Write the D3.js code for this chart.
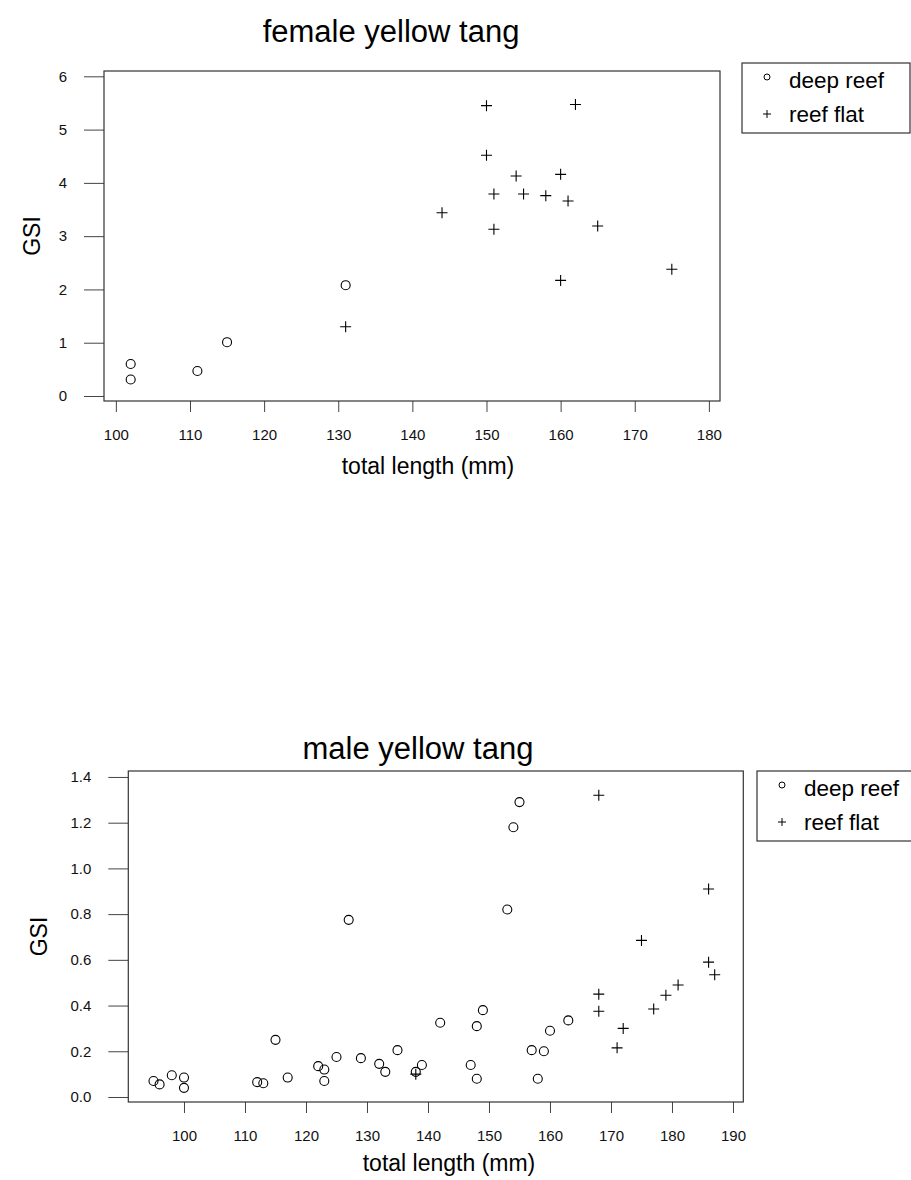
<!DOCTYPE html>
<html>
<head>
<meta charset="utf-8">
<script src="https://cdn.jsdelivr.net/npm/d3@7"></script>
<style>
  html, body { margin: 0; padding: 0; background: #fff; }
  svg { display: block; font-family: "Liberation Sans", Arial, Helvetica, sans-serif; }
</style>
</head>
<body>
<svg id="chart" width="911" height="1180"></svg>
<script>
// Gonadosomatic index (GSI) against total length, yellow tang
const femaleDeepLen = [102, 102, 111, 115, 131];
const femaleDeepGSI = [0.60, 0.31, 0.47, 1.01, 2.08];

const femaleFlatLen = [131, 144, 150, 150, 151, 151, 154, 155, 158, 160, 160, 161, 162, 165, 175];
const femaleFlatGSI = [1.30, 3.44, 5.45, 4.52, 3.79, 3.13, 4.13, 3.79, 3.76, 4.16, 2.17, 3.66, 5.47, 3.19, 2.38];

const maleDeepLen = [95, 96, 98, 100, 100, 112, 113, 115, 117, 122, 123, 123, 125, 127, 129, 132, 133,
                     135, 138, 139, 142, 147, 148, 148, 149, 153, 154, 155, 157, 158, 159, 160, 163];
const maleDeepGSI = [0.07, 0.055, 0.095, 0.085, 0.04, 0.065, 0.06, 0.25, 0.085, 0.135, 0.12, 0.07, 0.175, 0.775, 0.17, 0.145, 0.11,
                     0.205, 0.11, 0.14, 0.325, 0.14, 0.31, 0.08, 0.38, 0.82, 1.18, 1.29, 0.205, 0.08, 0.20, 0.29, 0.335];

const maleFlatLen = [138, 168, 168, 168, 171, 172, 175, 177, 179, 181, 186, 186, 187];
const maleFlatGSI = [0.10, 1.32, 0.45, 0.375, 0.215, 0.30, 0.685, 0.385, 0.445, 0.49, 0.91, 0.59, 0.535];

const femaleXTicks = [100, 110, 120, 130, 140, 150, 160, 170, 180];
const femaleYTicks = [0, 1, 2, 3, 4, 5, 6];
const maleXTicks = [100, 110, 120, 130, 140, 150, 160, 170, 180, 190];
const maleYTicks = [0, 0.2, 0.4, 0.6, 0.8, 1.0, 1.2, 1.4];

const legendLabels = ["deep reef", "reef flat"];

const svg = d3.select("#chart");

function panel(cfg) {
  const g = svg.append("g");
  const x = d3.scaleLinear().domain(cfg.xDomain).range([cfg.left, cfg.right]);
  const y = d3.scaleLinear().domain(cfg.yDomain).range([cfg.bottom, cfg.top]);

  // y axis ticks hanging off the frame
  g.append("g")
    .attr("transform", `translate(${cfg.left},0)`)
    .call(d3.axisLeft(y).tickValues(cfg.yTicks).tickFormat(cfg.yFormat).tickSize(20).tickPadding(17))
    .call(a => a.select(".domain").remove())
    .call(a => a.selectAll("line").attr("stroke", "#444"))
    .call(a => a.selectAll("text").attr("font-size", 15).attr("fill", "#111"));

  // x axis
  g.append("g")
    .attr("transform", `translate(0,${cfg.bottom})`)
    .call(d3.axisBottom(x).tickValues(cfg.xTicks).tickFormat(d3.format("d")).tickSize(11).tickPadding(17))
    .call(a => a.select(".domain").remove())
    .call(a => a.selectAll("line").attr("stroke", "#444"))
    .call(a => a.selectAll("text").attr("font-size", 15).attr("fill", "#111"));

  // frame
  g.append("rect")
    .attr("x", cfg.left).attr("y", cfg.top)
    .attr("width", cfg.right - cfg.left).attr("height", cfg.bottom - cfg.top)
    .attr("fill", "none").attr("stroke", "#333").attr("stroke-width", 1.2);

  // deep reef: open circles
  g.append("g").selectAll("circle")
    .data(d3.zip(cfg.deepLen, cfg.deepGSI))
    .join("circle")
    .attr("cx", d => x(d[0])).attr("cy", d => y(d[1])).attr("r", 4.5)
    .attr("fill", "none").attr("stroke", "#000").attr("stroke-width", 1.1);

  // reef flat: plus signs
  const plus = d3.symbol().type(d3.symbolCross);
  g.append("g").selectAll("path")
    .data(d3.zip(cfg.flatLen, cfg.flatGSI))
    .join("path")
    .attr("d", d => `M${x(d[0]) - 5.5},${y(d[1])}h11M${x(d[0])},${y(d[1]) - 5.5}v11`)
    .attr("stroke", "#000").attr("stroke-width", 1.1).attr("fill", "none");

  // titles
  g.append("text").attr("x", cfg.titleX).attr("y", cfg.titleY)
    .attr("text-anchor", "middle").attr("font-size", 31).attr("fill", "#000").text(cfg.title);
  g.append("text").attr("x", cfg.xlabX).attr("y", cfg.xlabY)
    .attr("text-anchor", "middle").attr("font-size", 23).attr("fill", "#000").text("total length (mm)");
  g.append("text")
    .attr("transform", `translate(${cfg.ylabX},${(cfg.top + cfg.bottom) / 2}) rotate(-90)`)
    .attr("text-anchor", "middle").attr("font-size", 23).attr("fill", "#000").text("GSI");

  // legend
  const lg = g.append("g").attr("transform", `translate(${cfg.legX},${cfg.legY})`);
  lg.append("rect").attr("x", 0).attr("y", 0).attr("width", cfg.legW).attr("height", cfg.legH)
    .attr("fill", "#fff").attr("stroke", "#333").attr("stroke-width", 1.2);
  const rows = [cfg.legRow0, cfg.legRow1];
  lg.append("circle").attr("cx", 25).attr("cy", rows[0] - 3).attr("r", 3)
    .attr("fill", "none").attr("stroke", "#000").attr("stroke-width", 1);
  lg.append("path").attr("d", `M21,${rows[1]}h8M25,${rows[1] - 4}v8`)
    .attr("stroke", "#000").attr("stroke-width", 1);
  lg.selectAll("text.lab").data(legendLabels).join("text").attr("class", "lab")
    .attr("x", 47).attr("y", (d, i) => rows[i]).attr("dy", "0.35em")
    .attr("font-size", 22.5).attr("fill", "#000").text(d => d);
}

panel({
  title: "female yellow tang", titleX: 391, titleY: 42,
  left: 104, right: 720, top: 71, bottom: 401,
  xDomain: [98.4, 181.5], yDomain: [-0.094, 6.1],
  xTicks: femaleXTicks, yTicks: femaleYTicks, yFormat: d3.format("d"),
  deepLen: femaleDeepLen, deepGSI: femaleDeepGSI,
  flatLen: femaleFlatLen, flatGSI: femaleFlatGSI,
  xlabX: 428, xlabY: 474, ylabX: 40,
  legX: 742, legY: 63, legW: 168, legH: 70, legRow0: 17, legRow1: 51
});

panel({
  title: "male yellow tang", titleX: 418, titleY: 759,
  left: 128.3, right: 743.3, top: 771, bottom: 1102,
  xDomain: [90.87, 191.69], yDomain: [-0.0219, 1.4261],
  xTicks: maleXTicks, yTicks: maleYTicks, yFormat: d3.format(".1f"),
  deepLen: maleDeepLen, deepGSI: maleDeepGSI,
  flatLen: maleFlatLen, flatGSI: maleFlatGSI,
  xlabX: 449, xlabY: 1171, ylabX: 47,
  legX: 757, legY: 771, legW: 170, legH: 70, legRow0: 17, legRow1: 51
});
</script>
</body>
</html>
